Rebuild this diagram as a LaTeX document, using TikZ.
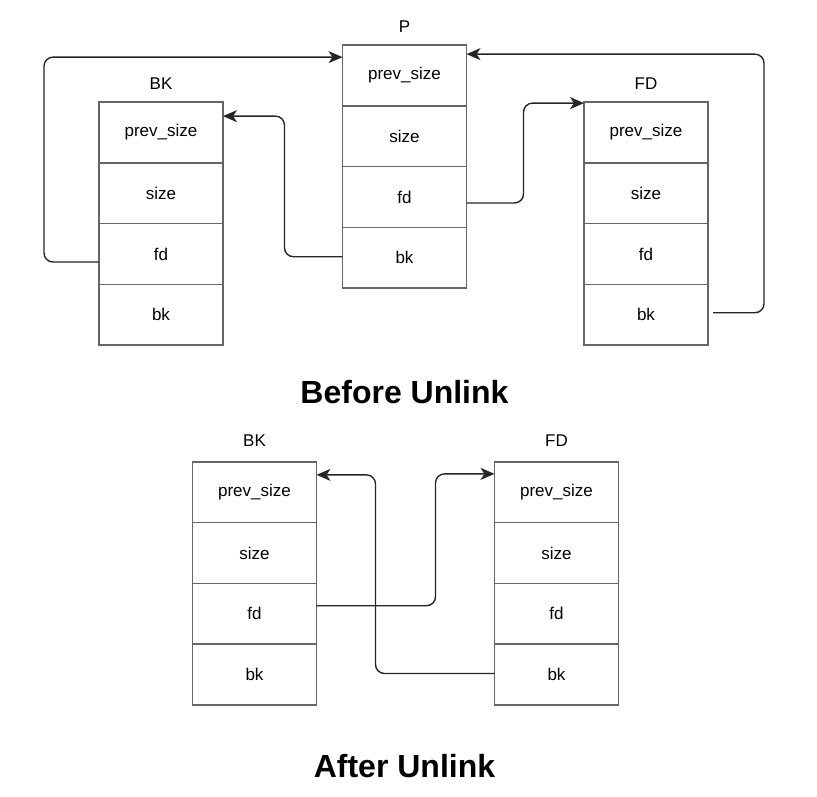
\documentclass[tikz,border=0pt]{standalone}
\usepackage{fontspec}
\setmainfont{Liberation Sans}
\usetikzlibrary{arrows.meta}

\tikzset{
  campo/.style={rectangle, draw=black!60, line width=1.5pt, minimum width=124pt,
    minimum height=60.75pt, inner sep=0pt, outer sep=0pt,
    font=\fontsize{17}{20}\selectfont},
  titulo/.style={font=\fontsize{17}{20}\selectfont},
  enlace/.style={draw=black!85, line width=1.4pt, rounded corners=9pt,
    -{Stealth[length=14pt, width=12pt, inset=4pt]}},
  rotulo/.style={font=\fontsize{32}{38}\selectfont\bfseries}
}

\begin{document}
\begin{tikzpicture}[x=1pt, y=-1pt]
  \useasboundingbox (0,0) rectangle (817,796);

  % Antes: chunk BK
  \node at (161,132.5) [campo] (BK-prev) {prev\_size};
  \node at (161,193.25) [campo] (BK-size) {size};
  \node at (161,254) [campo] (BK-fd) {fd};
  \node at (161,314.75) [campo] (BK-bk) {bk};
  \node at (161,84) [titulo] (BK-tit) {BK};

  % Antes: chunk P
  \node at (404.5,75.5) [campo] (P-prev) {prev\_size};
  \node at (404.5,136.25) [campo] (P-size) {size};
  \node at (404.5,197) [campo] (P-fd) {fd};
  \node at (404.5,257.75) [campo] (P-bk) {bk};
  \node at (404.5,27) [titulo] (P-tit) {P};

  % Antes: chunk FD
  \node at (646,132.5) [campo] (FD-prev) {prev\_size};
  \node at (646,193.25) [campo] (FD-size) {size};
  \node at (646,254) [campo] (FD-fd) {fd};
  \node at (646,314.75) [campo] (FD-bk) {bk};
  \node at (646,84) [titulo] (FD-tit) {FD};

  % Antes: punteros
  \draw[enlace] ([yshift=-8pt]BK-fd.west) -- ++(-55,0) |- ([yshift=-12pt]P-prev.north west);
  \draw[enlace] ([yshift=1pt]P-bk.west) -- ++(-58,0) |- ([yshift=-14pt]BK-prev.north east);
  \draw[enlace] ([yshift=-6pt]P-fd.east) -- ++(57,0) |- ([yshift=-1pt]FD-prev.north west);
  \draw[enlace] ([xshift=5pt,yshift=2pt]FD-bk.east) -- ++(51,0) |- ([yshift=-9pt]P-prev.north east);

  \node at (404.5,392) [rotulo] (antes) {Before Unlink};

  % Despues: chunk BK
  \node at (254.5,492.25) [campo] (BK2-prev) {prev\_size};
  \node at (254.5,553) [campo] (BK2-size) {size};
  \node at (254.5,613.75) [campo] (BK2-fd) {fd};
  \node at (254.5,674.5) [campo] (BK2-bk) {bk};
  \node at (254.5,441) [titulo] (BK2-tit) {BK};

  % Despues: chunk FD
  \node at (556.5,492.25) [campo] (FD2-prev) {prev\_size};
  \node at (556.5,553) [campo] (FD2-size) {size};
  \node at (556.5,613.75) [campo] (FD2-fd) {fd};
  \node at (556.5,674.5) [campo] (FD2-bk) {bk};
  \node at (556.5,441) [titulo] (FD2-tit) {FD};

  % Despues: punteros
  \draw[enlace] ([yshift=8pt]BK2-fd.east) -- ++(119,0) |- ([yshift=-12pt]FD2-prev.north west);
  \draw[enlace] ([yshift=1pt]FD2-bk.west) -- ++(-119,0) |- ([yshift=-13pt]BK2-prev.north east);

  \node at (404.5,766) [rotulo] (despues) {After Unlink};
\end{tikzpicture}
\end{document}
